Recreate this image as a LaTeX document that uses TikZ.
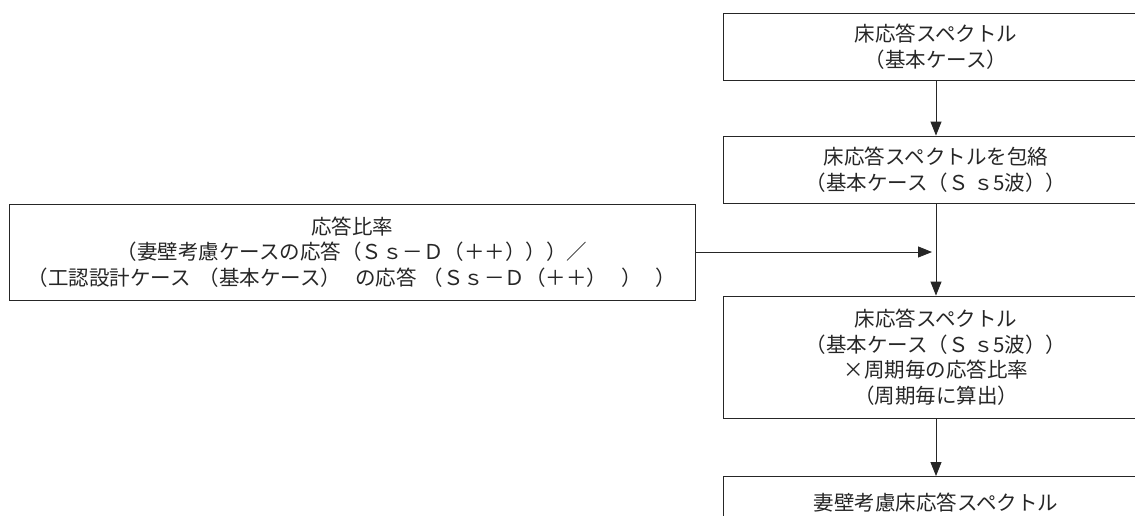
\documentclass[tikz,border=0pt]{standalone}
\usepackage{fontspec}
\newfontfamily\jpfont{Noto Sans CJK JP}
\usetikzlibrary{arrows.meta}
\tikzset{
  box/.style={draw=black!85, line width=0.9pt, rectangle, inner sep=0pt, align=center,
    minimum width=426pt, font=\jpfont\fontsize{20.5}{25.5}\selectfont, text=black!85},
  conn/.style={draw=black!85, line width=0.9pt, -{Triangle[width=11pt,length=14pt]}}
}
\begin{document}
\begin{tikzpicture}[x=1pt,y=-1pt]
\path[use as bounding box, clip] (0,0) rectangle (1135,515);
\fill[white] (0,0) rectangle (1135,515);
\node[box, minimum height=67pt] (b1) at (936,46.5) {床応答スペクトル\\（基本ケース）};
\node[box, minimum height=67pt] (b2) at (936,169.5) {床応答スペクトルを包絡\\（基本ケース（Ｓ ｓ5波））};
\node[box, minimum width=686pt, minimum height=96pt] (b3) at (352,252)
  {応答比率\\（妻壁考慮ケースの応答（Ｓｓ－Ｄ（＋＋）））／\\（工認設計ケース\hspace{8pt}（基本ケース）\hspace{14pt}の応答\hspace{6pt}（Ｓｓ－Ｄ（＋＋）\hspace{14pt}）\hspace{14pt}）};
\node[box, minimum height=122pt] (b4) at (936,357)
  {床応答スペクトル\\（基本ケース（Ｓ ｓ5波））\\×周期毎の応答比率\\（周期毎に算出）};
\node[box, anchor=north, text height=34pt, text depth=60pt, inner ysep=0pt] (b5) at (936,476) {妻壁考慮床応答スペクトル};
\draw[conn] (b1) -- (b2);
\draw[conn] (b2) -- (b4);
\draw[conn, shorten >=4pt] (b3.east) -- (b3.east -| b2.south);
\draw[conn] (b4) -- (b5);
\end{tikzpicture}
\end{document}
